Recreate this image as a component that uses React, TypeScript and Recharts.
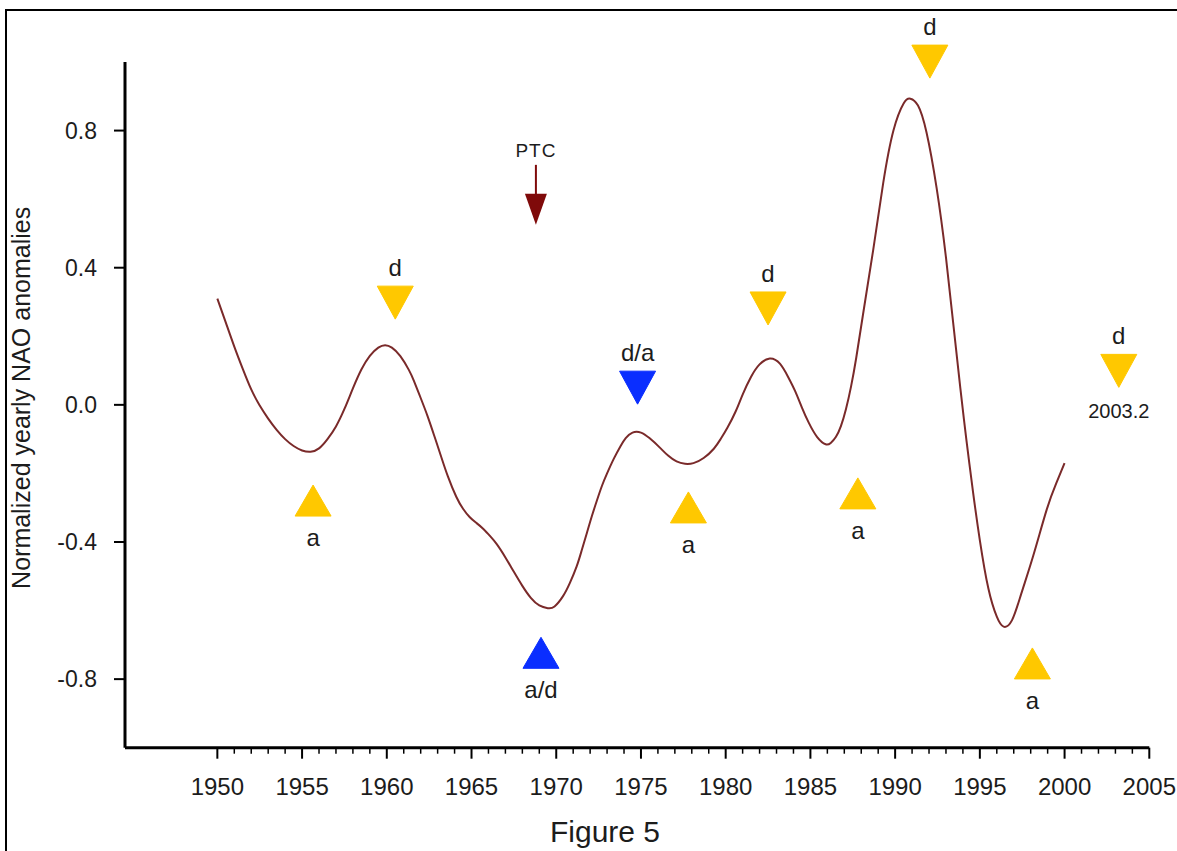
import React from 'react';
import { ComposedChart, Line, Scatter, XAxis, YAxis } from 'recharts';

// Smoothed yearly NAO anomaly curve
const naoYears = [
  1950.0, 1950.5, 1951.0, 1951.5, 1952.0, 1952.5, 1953.0, 1953.5, 1954.0, 1954.5,
  1955.0, 1955.5, 1956.0, 1956.5, 1957.0, 1957.5, 1958.0, 1958.5, 1959.0, 1959.5,
  1959.9, 1960.3, 1960.8, 1961.3, 1961.6, 1962.0, 1962.4, 1962.8, 1963.2, 1963.6,
  1964.1, 1964.5, 1964.9, 1965.3, 1965.7, 1966.1, 1966.5, 1967.0, 1967.5, 1968.0,
  1968.5, 1969.0, 1969.5, 1969.9, 1970.4, 1970.8, 1971.2, 1971.5, 1971.8, 1972.1,
  1972.4, 1972.7, 1973.0, 1973.4, 1973.8, 1974.1, 1974.5, 1975.0, 1975.5, 1976.1,
  1976.6, 1977.1, 1977.6, 1978.1, 1978.7, 1979.3, 1979.7, 1980.1, 1980.6, 1981.0,
  1981.5, 1982.0, 1982.6, 1983.2, 1983.7, 1984.1, 1984.5, 1984.9, 1985.4, 1985.9,
  1986.2, 1986.5, 1986.8, 1987.1, 1987.4, 1987.7, 1988.1, 1988.7, 1989.3, 1989.9,
  1990.5, 1990.9, 1991.35, 1991.85, 1992.45, 1993.0, 1993.45, 1993.85, 1994.2, 1994.6,
  1995.0, 1995.5, 1996.0, 1996.4, 1996.9, 1997.45, 1998.15, 1998.95, 1999.5, 2000.0,
];
const naoValues = [
  0.31, 0.24, 0.17, 0.105, 0.045, -0.002, -0.04, -0.073, -0.1, -0.12,
  -0.133, -0.137, -0.127, -0.1, -0.063, -0.012, 0.048, 0.103, 0.143, 0.167,
  0.174, 0.167, 0.142, 0.102, 0.07, 0.02, -0.032, -0.09, -0.15, -0.208,
  -0.268, -0.303, -0.328, -0.345, -0.362, -0.383, -0.407, -0.445, -0.487, -0.528,
  -0.563, -0.585, -0.593, -0.588, -0.558, -0.52, -0.472, -0.425, -0.375, -0.325,
  -0.279, -0.236, -0.2, -0.157, -0.12, -0.097, -0.081, -0.081, -0.097, -0.124,
  -0.148, -0.165, -0.172, -0.17, -0.155, -0.128, -0.1, -0.067, -0.018, 0.03,
  0.082, 0.118, 0.135, 0.12, 0.08, 0.04, -0.008, -0.052, -0.094, -0.115,
  -0.111, -0.094, -0.062, -0.012, 0.054, 0.136, 0.262, 0.45, 0.648, 0.8,
  0.879, 0.893, 0.873, 0.795, 0.632, 0.43, 0.228, 0.048, -0.1, -0.255,
  -0.395, -0.535, -0.618, -0.647, -0.628, -0.55, -0.44, -0.305, -0.23, -0.17,
];

// Event markers: up triangles point to their apex value, down triangles to their tip value
const ascentYears = [1955.65, 1977.8, 1987.8, 1998.1];
const ascentValues = [-0.234, -0.254, -0.213, -0.709];
const ascentLabels = ['a', 'a', 'a', 'a'];

const descentYears = [1960.5, 1982.5, 1992.05, 2003.2];
const descentValues = [0.25, 0.233, 0.953, 0.051];
const descentLabels = ['d', 'd', 'd', 'd'];
const descentNotes = ['', '', '', '2003.2'];

const mixedYears = [1969.1, 1974.8];
const mixedValues = [-0.678, 0.002];
const mixedLabels = ['a/d', 'd/a'];
const mixedPointsUp = [true, false];

const ptcYears = [1968.8];
const ptcValues = [0.525];
const ptcLabels = ['PTC'];

// Axis ticks
const yearTicks = Array.from({ length: 56 }, (_, i) => 1950 + i);
const valueTicks = [-0.8, -0.4, 0, 0.4, 0.8];

const FONT = '"Liberation Sans", Arial, Helvetica, sans-serif';
const YELLOW = '#FFC800';
const BLUE = '#0A2EFF';
const CURVE = '#7A2A2A';
const PTC_COLOR = '#7F0A0A';
const TEXT = '#1c1c1c';

const curveData = naoYears.map((year, i) => ({ year, value: naoValues[i] }));
const ascentData = ascentYears.map((year, i) => ({ year, value: ascentValues[i], label: ascentLabels[i], up: true, note: '' }));
const descentData = descentYears.map((year, i) => ({ year, value: descentValues[i], label: descentLabels[i], up: false, note: descentNotes[i] }));
const mixedData = mixedYears.map((year, i) => ({ year, value: mixedValues[i], label: mixedLabels[i], up: mixedPointsUp[i], note: '' }));
const ptcData = ptcYears.map((year, i) => ({ year, value: ptcValues[i], label: ptcLabels[i] }));

const makeTriangle = (color: string) => (props: any) => {
  const { cx, cy, payload } = props;
  if (cx == null || cy == null) return <g />;
  const hw = 18;
  if (payload.up) {
    const h = 31;
    return (
      <g>
        <polygon points={`${cx},${cy} ${cx - hw},${cy + h} ${cx + hw},${cy + h}`} fill={color} stroke={color} strokeWidth={1} />
        <text x={cx} y={cy + h + 30} textAnchor="middle" fontFamily={FONT} fontSize={24} fill={TEXT}>{payload.label}</text>
      </g>
    );
  }
  const h = 33;
  return (
    <g>
      <polygon points={`${cx},${cy} ${cx - hw},${cy - h} ${cx + hw},${cy - h}`} fill={color} stroke={color} strokeWidth={1} />
      <text x={cx} y={cy - h - 10} textAnchor="middle" fontFamily={FONT} fontSize={24} fill={TEXT}>{payload.label}</text>
      {payload.note ? (
        <text x={cx} y={cy + 31} textAnchor="middle" fontFamily={FONT} fontSize={20} fill={TEXT}>{payload.note}</text>
      ) : null}
    </g>
  );
};

const PtcArrow = (props: any) => {
  const { cx, cy, payload } = props;
  if (cx == null || cy == null) return <g />;
  return (
    <g>
      <line x1={cx} x2={cx} y1={cy - 60} y2={cy - 30} stroke={PTC_COLOR} strokeWidth={2} />
      <polygon points={`${cx},${cy} ${cx - 11},${cy - 31} ${cx + 11},${cy - 31}`} fill={PTC_COLOR} />
      <text x={cx} y={cy - 68} textAnchor="middle" fontFamily={FONT} fontSize={19} letterSpacing={1} fill={TEXT}>{payload.label}</text>
    </g>
  );
};

const YearTick = (props: any) => {
  const { x, y, payload } = props;
  const yr = Math.round(payload.value);
  const major = yr % 5 === 0;
  return (
    <g>
      <line x1={x} x2={x} y1={y} y2={y + (major ? 11 : 6)} stroke="#000" strokeWidth={major ? 2 : 1.5} />
      {major ? (
        <text x={x} y={y + 47} textAnchor="middle" fontFamily={FONT} fontSize={24} fill={TEXT}>{yr}</text>
      ) : null}
    </g>
  );
};

const YLabel = (props: any) => {
  const vb = props.viewBox || { x: 0, y: 62, width: 125, height: 686 };
  const x = 30;
  const y = vb.y + vb.height / 2 - 7;
  return (
    <text x={x} y={y} transform={`rotate(-90 ${x} ${y})`} textAnchor="middle" fontFamily={FONT} fontSize={25} fill={TEXT}>
      Normalized yearly NAO anomalies
    </text>
  );
};

export default function App() {
  return (
    <div style={{ position: 'absolute', left: 0, top: 0, width: 1177, height: 851, background: '#fff', overflow: 'hidden' }}>
      <div style={{ position: 'absolute', left: 5, top: 9, width: 1172, height: 842, borderLeft: '2px solid #000', borderTop: '2px solid #000', boxSizing: 'border-box' }} />
      <ComposedChart
        width={1177}
        height={851}
        margin={{ top: 62, right: 27.7, bottom: 63.3, left: 0 }}
        style={{ position: 'absolute', left: 0, top: 0 }}
      >
        <XAxis
          type="number"
          dataKey="year"
          domain={[1944.55, 2005]}
          ticks={yearTicks}
          interval={0}
          height={40}
          tickSize={0}
          tickMargin={0}
          tickLine={false}
          tick={<YearTick />}
          axisLine={{ stroke: '#000', strokeWidth: 3 }}
        />
        <YAxis
          type="number"
          dataKey="value"
          domain={[-1, 1]}
          ticks={valueTicks}
          interval={0}
          width={125}
          tickSize={11}
          tickMargin={17}
          tickFormatter={(v: number) => v.toFixed(1)}
          tick={{ fill: TEXT, fontSize: 23, fontFamily: FONT }}
          tickLine={{ stroke: '#000', strokeWidth: 2 }}
          axisLine={{ stroke: '#000', strokeWidth: 3 }}
          label={<YLabel />}
        />
        <Line
          data={curveData}
          dataKey="value"
          type="natural"
          stroke={CURVE}
          strokeWidth={2}
          dot={false}
          activeDot={false}
          isAnimationActive={false}
        />
        <Scatter data={ascentData} dataKey="value" shape={makeTriangle(YELLOW)} isAnimationActive={false} />
        <Scatter data={descentData} dataKey="value" shape={makeTriangle(YELLOW)} isAnimationActive={false} />
        <Scatter data={mixedData} dataKey="value" shape={makeTriangle(BLUE)} isAnimationActive={false} />
        <Scatter data={ptcData} dataKey="value" shape={PtcArrow} isAnimationActive={false} />
      </ComposedChart>
      <div style={{ position: 'absolute', left: 0, width: 1210, top: 813, textAlign: 'center', fontFamily: FONT, fontSize: 30, color: TEXT, lineHeight: '38px' }}>
        Figure 5
      </div>
    </div>
  );
}
